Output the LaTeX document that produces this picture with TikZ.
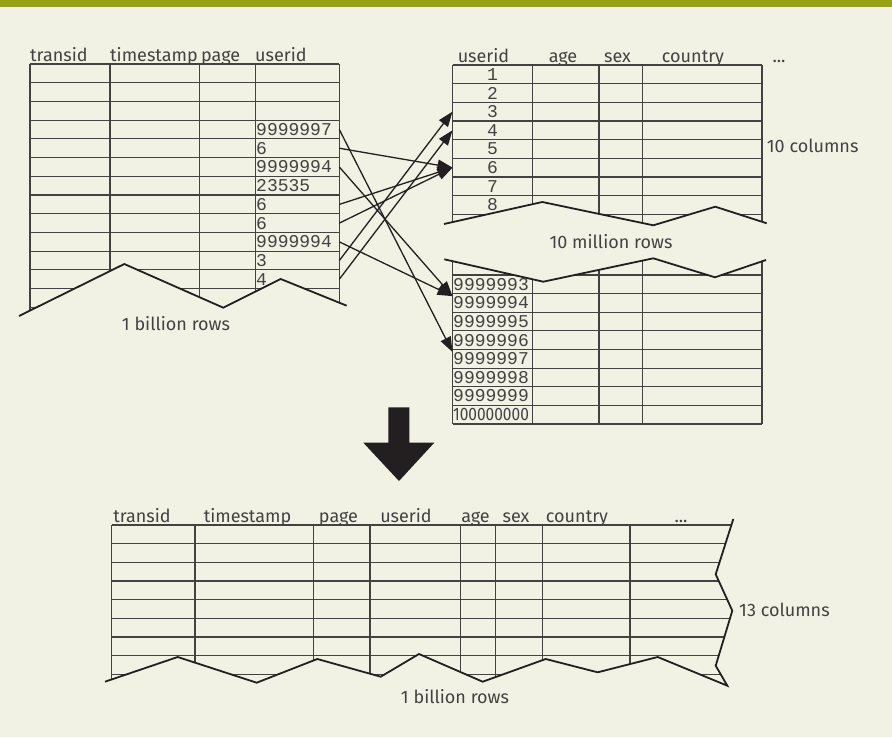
\documentclass[tikz,border=0pt]{standalone}
\usepackage{fontspec}
\setmainfont{Fira Sans}
\setmonofont{Liberation Mono}
\usetikzlibrary{arrows.meta}
\definecolor{paper}{RGB}{242,242,228}
\definecolor{band}{RGB}{151,161,22}
\definecolor{ink}{RGB}{35,31,32}

\begin{document}
\begin{tikzpicture}[x=1pt, y=-1pt,
    tabline/.style={draw=ink!85, line width=1.1pt},
    tear/.style={draw=ink, line width=1.8pt},
    link/.style={draw=ink, line width=1.3pt, -{Triangle[length=15pt,width=11pt]}},
    head/.style={font=\fontsize{18}{20}\selectfont, text=ink!85, inner sep=0pt, anchor=base},
    val/.style={font=\ttfamily\fontsize{18}{20}\selectfont, text=ink!85, inner sep=0.5pt, anchor=west},
    lbl/.style={font=\fontsize{18}{20}\selectfont, text=ink!85, inner sep=0pt}]

    \fill[paper] (0,0) rectangle (892,737);
    \useasboundingbox (0,0) rectangle (892,737);
    \fill[band] (0,0) rectangle (892,7);
    
    
    \begin{scope}
    \clip (19,316) -- (124.3,264) -- (223.3,307.7) -- (280.7,279) -- (346.7,305.7)
    -- (346.7,40) -- (19,40) -- cycle;
    \draw[tabline] (30,64) -- (339.3,64) (30,82.72) -- (339.3,82.72)
    (30,101.44) -- (339.3,101.44) (30,120.16) -- (339.3,120.16)
    (30,138.88) -- (339.3,138.88) (30,157.6) -- (339.3,157.6)
    (30,176.32) -- (339.3,176.32) (30,195.04) -- (339.3,195.04)
    (30,213.76) -- (339.3,213.76) (30,232.48) -- (339.3,232.48)
    (30,251.2) -- (339.3,251.2) (30,269.92) -- (339.3,269.92)
    (30,288.64) -- (339.3,288.64) (30,307.36) -- (339.3,307.36);
    \draw[tabline] (30,64) -- (30,330) (110,64) -- (110,330) (199.3,64) -- (199.3,330)
    (255.5,64) -- (255.5,330) (339.3,64) -- (339.3,330);
    \end{scope}
    \draw[tear] (19,316) -- (124.3,264) -- (223.3,307.7) -- (280.7,279) -- (346.7,305.7);
    
    
    \begin{scope}
    \clip (444,224) -- (542.3,202) -- (653.3,225.3) -- (715.3,206.7) -- (766.7,223.3)
    -- (766.7,50) -- (444,50) -- cycle;
    \draw[tabline] (452.5,65) -- (762,65) (452.5,83.66) -- (762,83.66)
    (452.5,102.32) -- (762,102.32) (452.5,120.98) -- (762,120.98)
    (452.5,139.64) -- (762,139.64) (452.5,158.3) -- (762,158.3)
    (452.5,176.96) -- (762,176.96) (452.5,195.62) -- (762,195.62)
    (452.5,214.28) -- (762,214.28) (452.5,232.94) -- (762,232.94);
    \draw[tabline] (452.5,65) -- (452.5,235) (532.5,65) -- (532.5,235) (599,65) -- (599,235)
    (642.7,65) -- (642.7,235) (762,65) -- (762,235);
    \end{scope}
    \draw[tear] (444,224) -- (542.3,202) -- (653.3,225.3) -- (715.3,206.7) -- (766.7,223.3);
    
    
    \begin{scope}
    \clip (444.3,259.3) -- (543.3,281.7) -- (653.3,258.3) -- (715,277.3) -- (766,260)
    -- (766,440) -- (444.3,440) -- cycle;
    \draw[tabline] (452.5,275) -- (762,275) (452.5,293.63) -- (762,293.63)
    (452.5,312.25) -- (762,312.25) (452.5,330.88) -- (762,330.88)
    (452.5,349.5) -- (762,349.5) (452.5,368.13) -- (762,368.13)
    (452.5,386.75) -- (762,386.75) (452.5,405.38) -- (762,405.38)
    (452.5,424) -- (762,424);
    \draw[tabline] (452.5,250) -- (452.5,424) (532.5,250) -- (532.5,424) (599,250) -- (599,424)
    (642.7,250) -- (642.7,424) (762,250) -- (762,424);
    \end{scope}
    \draw[tear] (444.3,259.3) -- (543.3,281.7) -- (653.3,258.3) -- (715,277.3) -- (766,260);
    
    
    \begin{scope}
    \clip (105,681.7) -- (177.7,657) -- (256.7,682.7) -- (317.3,659) -- (380.7,676.7)
    -- (419,654) -- (482.7,681.7) -- (545.7,659) -- (597.7,672.3) -- (657.7,657)
    -- (727.3,685.7) -- (715.7,665.7) -- (732.3,610.7) -- (715.7,574.3) -- (733.3,519)
    -- (100,519) -- cycle;
    \draw[tabline] (111.7,525) -- (740,525) (111.7,543.66) -- (740,543.66)
    (111.7,562.32) -- (740,562.32) (111.7,580.98) -- (740,580.98)
    (111.7,599.64) -- (740,599.64) (111.7,618.3) -- (740,618.3)
    (111.7,636.96) -- (740,636.96) (111.7,655.62) -- (740,655.62)
    (111.7,674.28) -- (740,674.28);
    \draw[tabline] (111.7,525) -- (111.7,690) (195,525) -- (195,690) (313.3,525) -- (313.3,690)
    (370,525) -- (370,690) (460.7,525) -- (460.7,690) (495.3,525) -- (495.3,690)
    (542.7,525) -- (542.7,690) (630,525) -- (630,690);
    \end{scope}
    \draw[tear] (105,681.7) -- (177.7,657) -- (256.7,682.7) -- (317.3,659) -- (380.7,676.7)
    -- (419,654) -- (482.7,681.7) -- (545.7,659) -- (597.7,672.3) -- (657.7,657)
    -- (727.3,685.7) -- (715.7,665.7) -- (732.3,610.7) -- (715.7,574.3) -- (733.3,519);
    
    
    \node[head, anchor=base west] (hTrans) at (30,61) {transid};
    \node[head, anchor=base west] (hStamp) at (110,61) {timestamp};
    \node[head, anchor=base west] (hPage) at (201,61) {page};
    \node[head, anchor=base west] (hUser) at (255,61) {userid};
    
    \node[head] (uUser) at (483.5,62) {userid};
    \node[head] (uAge) at (563,62) {age};
    \node[head] (uSex) at (617.5,62) {sex};
    \node[head] (uCountry) at (693,62) {country};
    \node[head] (uMore) at (779,62) {...};
    
    \node[head] (jTrans) at (142,522) {transid};
    \node[head] (jStamp) at (247.5,522) {timestamp};
    \node[head] (jPage) at (338.5,522) {page};
    \node[head] (jUser) at (406,522) {userid};
    \node[head] (jAge) at (475.5,522) {age};
    \node[head] (jSex) at (516,522) {sex};
    \node[head] (jCountry) at (577,522) {country};
    \node[head] (jMore) at (681,522) {...};
    
    \node[lbl] (billionL) at (176,324) {1 billion rows};
    \node[lbl, anchor=west] (colsTen) at (766.7,146) {10 columns};
    \node[lbl] (millionR) at (611,241.7) {10 million rows};
    \node[lbl, anchor=west] (colsThirteen) at (739,610) {13 columns};
    \node[lbl] (billionJ) at (455,697) {1 billion rows};
    
    
    \node[val] (l4) at (255.5,129.52) {9999997};
    \node[val] (l5) at (255.5,148.24) {6};
    \node[val] (l6) at (255.5,166.96) {9999994};
    \node[val] (l7) at (255.5,185.68) {23535};
    \node[val] (l8) at (255.5,204.4) {6};
    \node[val] (l9) at (255.5,223.12) {6};
    \node[val] (l10) at (255.5,241.84) {9999994};
    \node[val] (l11) at (255.5,260.56) {3};
    \node[val] (l12) at (255.5,279.28) {4};
    
    \node[val, anchor=center] (r1) at (492.5,74.33) {1};
    \node[val, anchor=center] (r2) at (492.5,92.99) {2};
    \node[val, anchor=center] (r3) at (492.5,111.65) {3};
    \node[val, anchor=center] (r4) at (492.5,130.31) {4};
    \node[val, anchor=center] (r5) at (492.5,148.97) {5};
    \node[val, anchor=center] (r6) at (492.5,167.63) {6};
    \node[val, anchor=center] (r7) at (492.5,186.29) {7};
    \node[val, anchor=center] (r8) at (492.5,204.95) {8};
    
    \node[val] (b93) at (452.5,284.31) {9999993};
    \node[val] (b94) at (452.5,302.94) {9999994};
    \node[val] (b95) at (452.5,321.56) {9999995};
    \node[val] (b96) at (452.5,340.19) {9999996};
    \node[val] (b97) at (452.5,358.81) {9999997};
    \node[val] (b98) at (452.5,377.44) {9999998};
    \node[val] (b99) at (452.5,396.06) {9999999};
    \node[val, font=\fontsize{18}{20}\selectfont, xscale=0.86] (b100) at (452.5,414.69) {100000000};
    
    
    \coordinate (lR) at (339.3,0);
    \coordinate (rL) at (452.5,0);
    
    \draw[link] (l4 -| lR) to (b97.north west);
    \draw[link] (l5 -| lR) to (r6 -| rL);
    \draw[link] (l6 -| lR) to (b94.north west);
    \draw[link] (l8 -| lR) to (r6 -| rL);
    \draw[link] (l9 -| lR) to (r6 -| rL);
    \draw[link] (l10 -| lR) to (b94.north west);
    \draw[link] (l11 -| lR) to (r3 -| rL);
    \draw[link] (l12 -| lR) to (r4 -| rL);
    
    \fill[ink] (388.3,407.3) -- (409.3,407.3) -- (409.3,442.7) -- (434.3,442.7)
    -- (399,481) -- (363.3,442.7) -- (388.3,442.7) -- cycle;
    
\end{tikzpicture}
\end{document}
